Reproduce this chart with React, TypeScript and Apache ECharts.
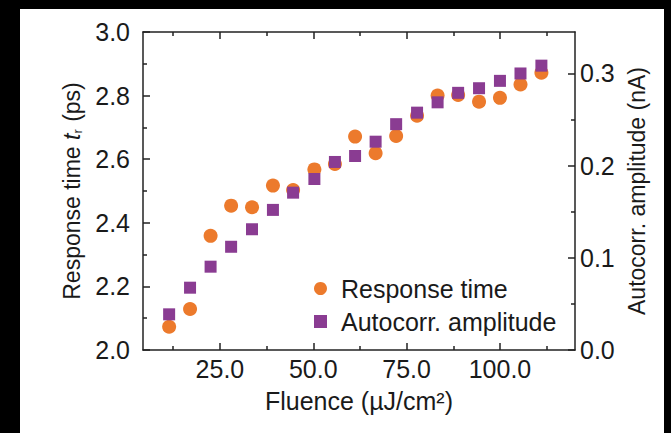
import React, { useEffect, useRef } from "react";
import * as echarts from "echarts";

// ---- data ----
const fluence = [11.4, 17.0, 22.5, 28.0, 33.6, 39.2, 44.6, 50.3, 55.8, 61.2, 66.7, 72.2, 77.8, 83.3, 88.8, 94.4, 100.0, 105.5, 111.1];
const responseTime = [2.073, 2.129, 2.359, 2.454, 2.449, 2.517, 2.503, 2.568, 2.585, 2.671, 2.619, 2.673, 2.737, 2.8, 2.802, 2.781, 2.793, 2.835, 2.872];
const autocorrAmp = [0.0387, 0.0676, 0.0904, 0.112, 0.131, 0.152, 0.1707, 0.1855, 0.204, 0.2105, 0.226, 0.245, 0.2575, 0.2687, 0.279, 0.284, 0.292, 0.3, 0.3085];

const xMajorTicks = [25, 50, 75, 100];
const xMinorTicks = [12.5, 37.5, 62.5, 87.5, 112.5];
const yLeftMajorTicks = [2.0, 2.2, 2.4, 2.6, 2.8, 3.0];
const yLeftMinorTicks = [2.1, 2.3, 2.5, 2.7, 2.9];
const yRightMajorTicks = [0, 0.1, 0.2, 0.3];
const yRightMinorTicks = [0.05, 0.15, 0.25];

const seriesNames = ["Response time", "Autocorr. amplitude"];

const FONT = "'Liberation Sans', Arial, Helvetica, sans-serif";
const TEXT = "#1a1a1a";
const LINE = "#222";
const ORANGE = "#EC7A2C";
const PURPLE = "#8A3C92";

const X_MIN = 4.4;
const X_MAX = 120.1;

function axisBase(min: number, max: number, position: string, major: boolean, ticks: number[], labels?: number[]) {
  return {
    type: "value",
    min,
    max,
    position,
    splitLine: { show: false },
    axisLine: { show: major, onZero: false, lineStyle: { color: LINE, width: 1.5 } },
    axisTick: {
      show: true,
      inside: true,
      length: major ? 7 : 4,
      customValues: ticks,
      lineStyle: { color: LINE, width: 1.5 },
    },
    axisLabel: labels
      ? {
          show: true,
          customValues: labels,
          fontSize: 25,
          fontFamily: FONT,
          color: TEXT,
          formatter: (v: number) => v.toFixed(1),
        }
      : { show: false },
  } as any;
}

export default function App() {
  const ref = useRef<HTMLDivElement>(null);

  useEffect(() => {
    if (!ref.current) return;
    const chart = echarts.init(ref.current, undefined, { renderer: "svg" });

    const xBottom = axisBase(X_MIN, X_MAX, "bottom", true, xMajorTicks, xMajorTicks);
    xBottom.axisLabel.margin = 6;
    xBottom.name = "Fluence (µJ/cm²)";
    xBottom.nameLocation = "middle";
    xBottom.nameGap = 38;
    xBottom.nameTextStyle = { fontSize: 25, fontFamily: FONT, color: TEXT };

    const xTop = axisBase(X_MIN, X_MAX, "top", true, xMajorTicks);
    const xBottomMinor = axisBase(X_MIN, X_MAX, "bottom", false, xMinorTicks);
    const xTopMinor = axisBase(X_MIN, X_MAX, "top", false, xMinorTicks);

    const yLeft = axisBase(2.0, 3.0, "left", true, yLeftMajorTicks, yLeftMajorTicks);
    yLeft.axisLabel.margin = 13;
    yLeft.name = "{a|Response time }{i|t}{s|r}{a| (ps)}";
    yLeft.nameLocation = "middle";
    yLeft.nameGap = 49;
    yLeft.nameTextStyle = {
      fontFamily: FONT,
      color: TEXT,
      rich: {
        a: { fontSize: 23, fontFamily: FONT, color: TEXT, lineHeight: 26 },
        i: { fontSize: 23, fontFamily: FONT, color: TEXT, fontStyle: "italic", lineHeight: 26 },
        s: { fontSize: 13, fontFamily: FONT, color: TEXT, lineHeight: 13, padding: [12, 1, 0, 0] },
      },
    };

    const yRight = axisBase(0, 0.345, "right", true, yRightMajorTicks, yRightMajorTicks);
    yRight.axisLabel.margin = 5;
    yRight.name = "Autocorr. amplitude (nA)";
    yRight.nameLocation = "middle";
    yRight.nameGap = 49;
    yRight.nameTextStyle = { fontSize: 23, fontFamily: FONT, color: TEXT };

    const yLeftMinor = axisBase(2.0, 3.0, "left", false, yLeftMinorTicks);
    const yRightMinor = axisBase(0, 0.345, "right", false, yRightMinorTicks);

    chart.setOption({
      animation: false,
      backgroundColor: "#000",
      graphic: [
        {
          type: "rect",
          z: -100,
          silent: true,
          shape: { x: 20, y: 9, width: 644, height: 424 },
          style: { fill: "#fff" },
        },
      ],
      grid: { left: 143, top: 32, width: 432, height: 318 },
      legend: {
        orient: "vertical",
        left: 314,
        top: 276,
        padding: 0,
        itemWidth: 13,
        itemHeight: 13,
        itemGap: 8,
        textStyle: { fontSize: 25, fontFamily: FONT, color: TEXT, lineHeight: 25, padding: [0, 0, 0, 9] },
        data: [
          { name: seriesNames[0], icon: "circle" },
          { name: seriesNames[1], icon: "rect" },
        ],
      },
      xAxis: [xBottom, xTop, xBottomMinor, xTopMinor],
      yAxis: [yLeft, yRight, yLeftMinor, yRightMinor],
      series: [
        {
          name: seriesNames[0],
          type: "scatter",
          xAxisIndex: 0,
          yAxisIndex: 0,
          symbol: "circle",
          symbolSize: 14,
          itemStyle: { color: ORANGE, opacity: 1 },
          data: fluence.map((f, i) => [f, responseTime[i]]),
          z: 2,
        },
        {
          name: seriesNames[1],
          type: "scatter",
          xAxisIndex: 0,
          yAxisIndex: 1,
          symbol: "rect",
          symbolSize: 12,
          itemStyle: { color: PURPLE, opacity: 1 },
          data: fluence.map((f, i) => [f, autocorrAmp[i]]),
          z: 3,
        },
      ],
    });

    return () => chart.dispose();
  }, []);

  return (
    <div style={{ position: "absolute", left: 0, top: 0, width: 671, height: 433, background: "#000" }}>
      <div ref={ref} style={{ width: 671, height: 433 }} />
    </div>
  );
}
